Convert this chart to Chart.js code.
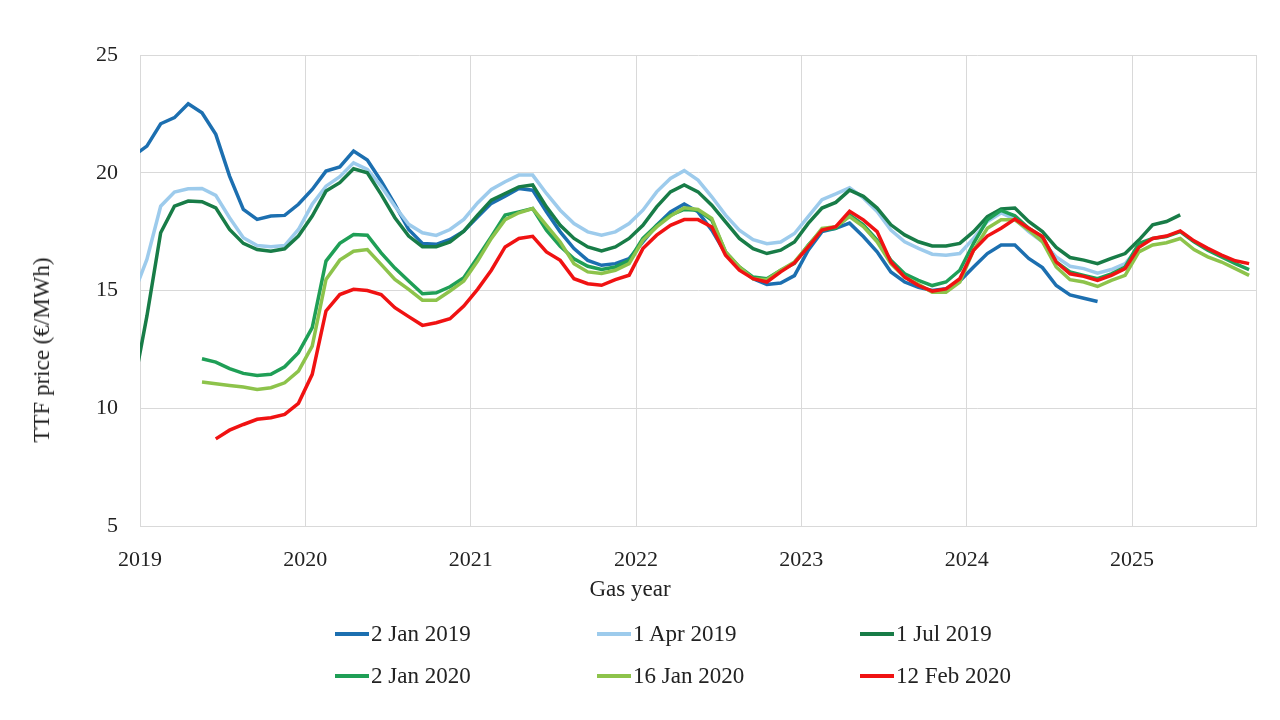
<!DOCTYPE html>
<html>
<head>
<meta charset="utf-8">
<script src="https://cdn.jsdelivr.net/npm/chart.js@4"></script>
<style>
  body { margin: 0; background: #fff; }
  #wrap { position: relative; width: 1280px; height: 720px; font-family: "Liberation Serif", serif; color: #222; }
  #ytitle { position: absolute; left: 42px; top: 350px; transform: translate(-50%, -50%) rotate(-90deg); white-space: nowrap; font-size: 23px; }
  #xtitle { position: absolute; left: 630px; top: 589px; transform: translate(-50%, -50%); white-space: nowrap; font-size: 23px; }
  #legend { position: absolute; left: 335px; top: 613px; display: grid; grid-template-columns: 262px 263px 262px; grid-auto-rows: 42px; }
  .item { display: flex; align-items: center; height: 42px; }
  .sw { width: 34px; height: 4px; flex: none; }
  .lb { font-size: 23px; margin-left: 2px; white-space: nowrap; }
</style>
</head>
<body>
<div id="wrap">
  <canvas id="graphCanvas" width="1280" height="720"></canvas>
  <div id="ytitle">TTF price (€/MWh)</div>
  <div id="xtitle">Gas year</div>
  <div id="legend"></div>
</div>
<script>
// x axis = gas year, monthly points plotted mid-month; month 0 = Jan 2019
var xTicks = [2019, 2020, 2021, 2022, 2023, 2024, 2025, 2025.75];
var yTicks = [5, 10, 15, 20, 25];

var seriesNames = ['2 Jan 2019', '1 Apr 2019', '1 Jul 2019', '2 Jan 2020', '16 Jan 2020', '12 Feb 2020'];
var seriesColors = ['#1c6fb0', '#9dcbec', '#187c47', '#1f9f56', '#8dc34b', '#f01212'];

// first month of each curve (index from Jan 2019)
var seriesStart = [-1, -1, -1, 4, 4, 5];

var curveJan2019 = [20.7, 21.13, 22.08, 22.34, 22.93, 22.55, 21.63, 19.86, 18.44, 18.02, 18.16, 18.19, 18.66,
    19.29, 20.07, 20.25, 20.92, 20.54, 19.65, 18.66, 17.59, 17.0, 16.96, 17.17, 17.52,
    18.12, 18.7, 19.0, 19.33, 19.26, 18.34, 17.49, 16.78, 16.28, 16.07, 16.14, 16.35,
    17.06, 17.77, 18.34, 18.67, 18.34, 17.56, 16.57, 15.97, 15.5, 15.26, 15.32, 15.63,
    16.71, 17.5, 17.64, 17.86, 17.29, 16.64, 15.79, 15.36, 15.14, 15.0, 15.07, 15.4,
    16.0, 16.57, 16.93, 16.93, 16.36, 15.97, 15.21, 14.81, 14.67, 14.53];

var curveApr2019 = [14.8, 16.32, 18.58, 19.18, 19.32, 19.33, 19.04, 18.09, 17.24, 16.91, 16.86, 16.91, 17.59,
    18.66, 19.43, 19.83, 20.42, 20.14, 19.43, 18.58, 17.81, 17.45, 17.34, 17.59, 18.02,
    18.72, 19.29, 19.62, 19.9, 19.9, 19.12, 18.41, 17.84, 17.49, 17.35, 17.49, 17.84,
    18.41, 19.19, 19.76, 20.09, 19.69, 18.98, 18.2, 17.56, 17.16, 16.99, 17.06, 17.42,
    18.14, 18.86, 19.1, 19.36, 18.93, 18.36, 17.57, 17.07, 16.79, 16.54, 16.5, 16.57,
    17.21, 17.93, 18.29, 18.03, 17.5, 17.07, 16.43, 16.03, 15.93, 15.74, 15.89, 16.14,
    16.83];

var curveJul2019 = [10.8, 13.91, 17.45, 18.58, 18.8, 18.77, 18.51, 17.59, 17.0, 16.74, 16.67, 16.77, 17.31,
    18.16, 19.22, 19.58, 20.17, 20.0, 19.08, 18.09, 17.31, 16.86, 16.86, 17.06, 17.52,
    18.2, 18.84, 19.12, 19.4, 19.48, 18.55, 17.77, 17.21, 16.85, 16.68, 16.85, 17.21,
    17.77, 18.55, 19.19, 19.48, 19.19, 18.62, 17.91, 17.21, 16.78, 16.57, 16.71, 17.06,
    17.85, 18.5, 18.74, 19.26, 19.0, 18.5, 17.79, 17.36, 17.07, 16.89, 16.89, 17.0,
    17.5, 18.14, 18.46, 18.5, 17.93, 17.5, 16.83, 16.4, 16.29, 16.14, 16.36, 16.57,
    17.14, 17.79, 17.93, 18.21];

var curveJan2020 = [12.1, 11.96, 11.68, 11.48, 11.39, 11.44, 11.76, 12.36,
    13.42, 16.25, 17.0, 17.38, 17.35, 16.6, 15.95, 15.4, 14.86, 14.9, 15.16, 15.54,
    16.4, 17.28, 18.2, 18.34, 18.48, 17.56, 16.88, 16.35, 16.03, 15.89, 16.0, 16.28,
    17.21, 17.77, 18.2, 18.44, 18.41, 17.99, 16.64, 16.0, 15.57, 15.5, 15.86, 16.15,
    16.93, 17.57, 17.64, 18.21, 17.79, 17.14, 16.29, 15.71, 15.43, 15.21, 15.36, 15.86,
    17.0, 18.0, 18.4, 18.17, 17.64, 17.26, 16.21, 15.79, 15.64, 15.5, 15.71, 16.0,
    17.0, 17.21, 17.29, 17.5, 17.07, 16.71, 16.43, 16.14, 15.89];

var curveJan2020b = [11.11, 11.04, 10.97, 10.9, 10.8, 10.87, 11.08, 11.58,
    12.64, 15.47, 16.29, 16.67, 16.74, 16.11, 15.47, 15.05, 14.59, 14.59, 14.98, 15.4,
    16.25, 17.21, 18.01, 18.3, 18.48, 17.77, 17.06, 16.14, 15.79, 15.72, 15.86, 16.14,
    17.13, 17.7, 18.16, 18.51, 18.44, 18.06, 16.64, 16.0, 15.5, 15.46, 15.86, 16.21,
    16.9, 17.64, 17.71, 18.14, 17.71, 17.07, 16.14, 15.57, 15.26, 14.93, 14.93, 15.36,
    16.71, 17.64, 18.0, 18.0, 17.57, 17.07, 16.0, 15.46, 15.36, 15.17, 15.43, 15.64,
    16.64, 16.93, 17.03, 17.21, 16.74, 16.43, 16.21, 15.93, 15.64];

var curveFeb2020 = [8.7, 9.07, 9.31, 9.53, 9.6, 9.74, 10.21,
    11.44, 14.13, 14.83, 15.05, 15.0, 14.83, 14.27, 13.89, 13.52, 13.63, 13.8, 14.34,
    15.05, 15.86, 16.85, 17.21, 17.3, 16.64, 16.28, 15.5, 15.29, 15.22, 15.46, 15.65,
    16.78, 17.35, 17.77, 18.01, 18.01, 17.7, 16.5, 15.86, 15.5, 15.36, 15.79, 16.17,
    16.85, 17.57, 17.71, 18.36, 18.0, 17.5, 16.21, 15.57, 15.21, 14.97, 15.07, 15.5,
    16.71, 17.31, 17.64, 18.03, 17.64, 17.29, 16.21, 15.71, 15.6, 15.43, 15.64, 15.93,
    16.83, 17.21, 17.31, 17.53, 17.11, 16.79, 16.5, 16.26, 16.14];

var seriesValues = [curveJan2019, curveApr2019, curveJul2019, curveJan2020, curveJan2020b, curveFeb2020];

function monthToYear(m) {
    return 2019 + (m + 0.5) / 12;
}

var tickFont = { family: 'Liberation Serif', size: 22 };

var datasets = [];
for (var i = 0; i < seriesNames.length; i++) {
    var pts = [];
    for (var j = 0; j < seriesValues[i].length; j++) {
        pts.push({ x: monthToYear(seriesStart[i] + j), y: seriesValues[i][j] });
    }
    datasets.push({
        label: seriesNames[i],
        data: pts,
        borderColor: seriesColors[i],
        backgroundColor: seriesColors[i],
        borderWidth: 3.5,
        pointRadius: 0,
        tension: 0,
        clip: 0,
        order: seriesNames.length - 1 - i
    });
}

var graph = new Chart(document.getElementById('graphCanvas'), {
    type: 'line',
    data: { datasets: datasets },
    options: {
        responsive: false,
        animation: false,
        layout: { padding: { top: 55, right: 24, left: 0, bottom: 0 } },
        plugins: { legend: { display: false }, tooltip: { enabled: false } },
        scales: {
            x: {
                type: 'linear',
                min: 2019,
                max: 2025.75,
                afterBuildTicks: function(s) { s.ticks = xTicks.map(function(v) { return { value: v }; }); },
                afterFit: function(s) { s.height = 194; },
                ticks: {
                    autoSkip: false,
                    maxRotation: 0,
                    padding: 21,
                    color: '#222',
                    font: tickFont,
                    callback: function(v) { return Number.isInteger(v) ? String(v) : ''; }
                },
                grid: { color: '#d9d9d9', drawTicks: false },
                border: { color: '#d9d9d9' }
            },
            y: {
                min: 5,
                max: 25,
                afterBuildTicks: function(s) { s.ticks = yTicks.map(function(v) { return { value: v }; }); },
                afterFit: function(s) { s.width = 140; },
                ticks: { padding: 22, color: '#222', font: tickFont },
                grid: { color: '#d9d9d9', drawTicks: false },
                border: { color: '#d9d9d9' }
            }
        }
    }
});

// legend laid out as a 3 x 2 grid like the original
var legend = document.getElementById('legend');
for (var k = 0; k < seriesNames.length; k++) {
    var item = document.createElement('div');
    item.className = 'item';
    item.innerHTML = '<span class="sw" style="background:' + seriesColors[k] + '"></span><span class="lb">' + seriesNames[k] + '</span>';
    legend.appendChild(item);
}
</script>
</body>
</html>
